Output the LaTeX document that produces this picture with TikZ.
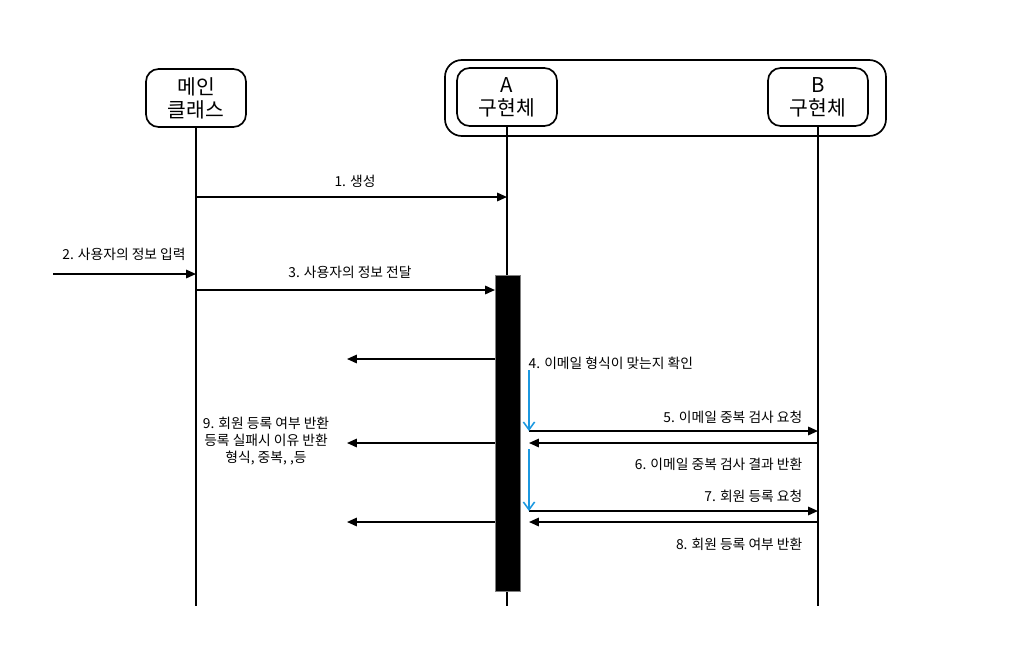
\documentclass[tikz,border=0pt]{standalone}
\usepackage{fontspec}
\setmainfont{Noto Sans CJK KR}
\usepackage{tikz}
\usetikzlibrary{arrows.meta}

\definecolor{selfblue}{RGB}{27,152,224}

\begin{document}
\begin{tikzpicture}[
      x=0.025cm, y=-0.025cm,
      actor/.style={draw, line width=1.2pt, rounded corners=9pt, align=center,
                    font=\fontsize{14.5}{16.5}\selectfont, minimum width=2.5cm, minimum height=1.45cm},
      lbl/.style={font=\fontsize{9.8}{11.8}\selectfont, inner sep=1pt},
      life/.style={line width=0.9pt},
      msg/.style={-{Triangle[length=7pt,width=6pt]}, line width=1.2pt},
      self/.style={-{Straight Barb[length=5.5pt,width=8pt]}, line width=1.1pt, selfblue}
    ]
    \useasboundingbox (0,0) rectangle (1015,646);
    % participants
    \draw[line width=1.2pt, rounded corners=12pt] (445,60) rectangle (886,136);
    \node[actor] (main) at (196,98) {메인\\클래스};
    \node[actor] (a)    at (507,97) {A\\구현체};
    \node[actor] (b)    at (818,97) {B\\구현체};
    \coordinate (mainEnd) at (196,606);
    \coordinate (aEnd)    at (507,606);
    \coordinate (bEnd)    at (818,606);
    \draw[life] (main) -- (mainEnd);
    \draw[life] (a) -- (aEnd);
    \draw[life] (b) -- (bEnd);
    \node[draw=gray, fill=black, minimum width=0.62cm, minimum height=7.9cm, inner sep=0pt] (bar) at (507.5,433) {};
    % message points
    \coordinate (m1s) at (196,197);  \coordinate (m1e) at (507,197);
    \coordinate (m2s) at (53,274);   \coordinate (m2e) at (196,274);
    \coordinate (m3s) at (196,290);  \coordinate (m3e) at (495,290);
    \coordinate (r1s) at (495,359);  \coordinate (r1e) at (347,359);
    \coordinate (r2s) at (495,443);  \coordinate (r2e) at (347,443);
    \coordinate (r3s) at (495,522);  \coordinate (r3e) at (347,522);
    \coordinate (m5s) at (529,431);  \coordinate (m5e) at (818,431);
    \coordinate (m6s) at (818,443);  \coordinate (m6e) at (529,443);
    \coordinate (m7s) at (529,511);  \coordinate (m7e) at (818,511);
    \coordinate (m8s) at (818,522);  \coordinate (m8e) at (529,522);
    \coordinate (c1s) at (529,370);  \coordinate (c2s) at (529,449);
    % messages
    \draw[msg] (m1s) -- (m1e);
    \draw[msg] (m2s) -- (m2e);
    \draw[msg] (m3s) -- (m3e);
    \draw[msg] (r1s) -- (r1e);
    \draw[msg] (r2s) -- (r2e);
    \draw[msg] (r3s) -- (r3e);
    \draw[msg] (m5s) -- (m5e);
    \draw[msg] (m6s) -- (m6e);
    \draw[msg] (m7s) -- (m7e);
    \draw[msg] (m8s) -- (m8e);
    \draw[self] (c1s) -- (m5s);
    \draw[self] (c2s) -- (m7s);
    % labels
    \node[lbl] (l1) at (355,181) {1. 생성};
    \node[lbl] (l2) at (124,254) {2. 사용자의 정보 입력};
    \node[lbl] (l3) at (350,272) {3. 사용자의 정보 전달};
    \node[lbl, anchor=west] (l4) at (527,363) {4. 이메일 형식이 맞는지 확인};
    \node[lbl, anchor=east] (l5) at (804,417) {5. 이메일 중복 검사 요청};
    \node[lbl, anchor=east] (l6) at (804,464) {6. 이메일 중복 검사 결과 반환};
    \node[lbl, anchor=east] (l7) at (804,496) {7. 회원 등록 요청};
    \node[lbl, anchor=east] (l8) at (804,544) {8. 회원 등록 여부 반환};
    \node[lbl, align=center] (l9) at (266,441) {9. 회원 등록 여부 반환\\등록 실패시 이유 반환\\형식, 중복, ,등};
\end{tikzpicture}
\end{document}
